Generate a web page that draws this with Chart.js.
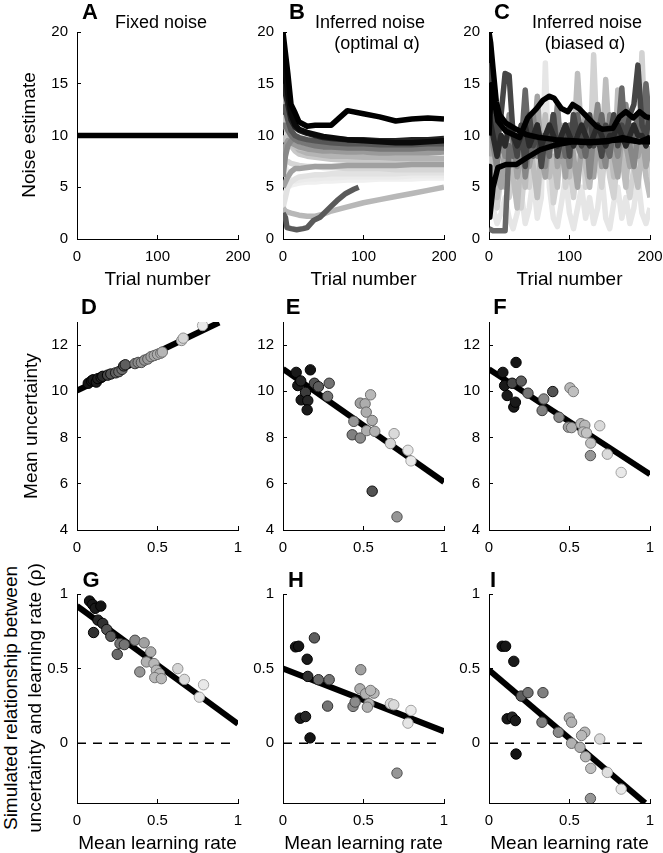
<!DOCTYPE html>
<html>
<head>
<meta charset="utf-8">
<script src="https://cdn.jsdelivr.net/npm/chart.js@4.4.1/dist/chart.umd.min.js"></script>
<style>
  body { margin: 0; background: #fff; }
  #fig { position: relative; width: 663px; height: 853px; overflow: hidden;
         font-family: "Liberation Sans", Arial, Helvetica, sans-serif; color: #000; }
  #fig canvas { position: absolute; }
  .t { position: absolute; white-space: nowrap; transform: translate(-50%, -50%); font-size: 19px; line-height: 1; z-index: 2; }
  .lab { font-weight: bold; font-size: 22px; }
  .ttl { font-size: 18px; }
  .rot { transform: translate(-50%, -50%) rotate(-90deg); }
</style>
</head>
<body>
<div id="fig"></div>
<script>
'use strict';

// ---- values ----
const trialTicks = [0, 100, 200];
const noiseTicks = [0, 5, 10, 15, 20];
const rateTicks  = [0, 0.5, 1];
const uncTicks   = [4, 6, 8, 10, 12];
const rhoTicks   = [0, 0.5, 1];

// A: fixed noise
const fixedTrials = [0, 200];
const fixedNoise  = [10, 10];

// B: inferred noise, optimal alpha (one curve per simulated subject, light -> dark)
const optTrials = [0, 3, 6, 10, 15, 20, 30, 40, 50, 60, 80, 100, 120, 140, 160, 180, 200];
const optCurves = [
  [4, 4.5, 5, 5.2, 5.3, 5.4, 5.5, 5.5, 5.6, 5.6, 5.7, 5.7, 5.8, 5.8, 5.8, 5.9, 5.9],
  [9, 7, 6, 5.6, 5.6, 5.7, 5.8, 5.8, 5.9, 5.9, 6, 6, 6, 6, 6.1, 6.1, 6.1],
  [3, 4, 5, 5.5, 5.8, 6, 6.1, 6.2, 6.2, 6.3, 6.3, 6.3, 6.3, 6.3, 6.4, 6.4, 6.4],
  [7, 7.5, 7.5, 7.3, 7.2, 7.1, 7, 7, 6.9, 6.9, 6.8, 6.8, 6.8, 6.7, 6.7, 6.7, 6.7],
  [12, 11, 10, 9, 8.5, 8.2, 8, 7.9, 7.8, 7.7, 7.6, 7.5, 7.5, 7.4, 7.4, 7.4, 7.4],
  [14.5, 13, 11, 9.5, 9, 8.6, 8.3, 8.2, 8.1, 8, 8, 7.9, 7.9, 7.8, 7.8, 7.8, 7.8],
  [3, 2.7, 2.6, 2.5, 2.4, 2.3, 2.2, 2.2, 2.4, 2.7, 3.1, 3.5, 3.8, 4.1, 4.4, 4.7, 5],
  [10, 9.5, 9.3, 9.1, 8.9, 8.8, 8.7, 8.6, 8.6, 8.5, 8.5, 8.5, 8.4, 8.4, 8.4, 8.4, 8.5],
  [5, 5.5, 6, 6.5, 6.8, 6.8, 6.9, 7, 7, 7, 7.1, 7.1, 7.1, 7.1, 7.2, 7.2, 7.2],
  [8, 9, 9.5, 9.3, 9.1, 8.9, 8.7, 8.6, 8.5, 8.5, 8.4, 8.4, 8.3, 8.3, 8.3, 8.3, 8.4],
  [6, 8, 9, 9.5, 9.7, 9.7, 9.5, 9.3, 9.2, 9.1, 9, 9, 9, 8.9, 8.9, 8.9, 8.9],
  [11, 11, 10.5, 10, 9.6, 9.4, 9.2, 9, 8.9, 8.9, 8.8, 8.8, 8.7, 8.7, 8.7, 8.8, 8.8],
  [13, 12.5, 11.5, 10.5, 10, 9.8, 9.6, 9.5, 9.4, 9.3, 9.2, 9.2, 9.1, 9.1, 9.1, 9.2, 9.2],
  [15, 14, 13, 11.5, 10.8, 10.5, 10.2, 10, 9.8, 9.7, 9.6, 9.6, 9.5, 9.5, 9.6, 9.6, 9.7],
  [17.5, 16, 14, 12, 11, 10.6, 10.3, 10.1, 9.9, 9.8, 9.6, 9.5, 9.4, 9.3, 9.3, 9.4, 9.5],
  [20, 18, 16, 13, 12.2, 11.3, 10.9, 11, 11, 11, 12.4, 12.1, 11.8, 11.4, 11.6, 11.7, 11.6],
];
const optShades = ['#f0f0f0', '#ebebeb', '#e2e2e2', '#d6d6d6', '#c8c8c8', '#b4b4b4', '#b8b8b8', '#c2c2c2',
                   '#a0a0a0', '#9a9a9a', '#888888', '#777777', '#555555', '#222222', '#0a0a0a', '#000000'];
// the dark curve that starts near 1 and stops around trial 95
const optLowTrials = [0, 3, 5, 10, 17, 25, 30, 38, 46, 59, 67, 78, 88, 94];
const optLowNoise  = [2.5, 2.1, 1.1, 1, 0.9, 1, 1.1, 1.8, 2.1, 3.1, 3.7, 4.4, 4.8, 5.0];

// C: inferred noise, biased alpha (spiky curves, light -> dark)
const biasTrials = [0, 5, 10, 15, 20, 25, 30, 35, 40, 45, 50, 55, 60, 65, 70, 75, 80, 85, 90, 95, 100,
                    105, 110, 115, 120, 125, 130, 135, 140, 145, 150, 155, 160, 165, 170, 175, 180, 185, 190, 195, 200];
const biasCurves = [
  [6, 3, 1.5, 2.5, 4, 2, 1, 2.5, 4.5, 1.5, 3, 6, 2, 4, 17, 5, 2, 1.2, 3.5, 6, 2.5, 1, 3, 5, 2, 4, 1.5, 3, 6.5, 2, 1, 3.5, 5, 2, 4, 1.5, 3, 6, 2.5, 1.5, 3],
  [9, 5, 3, 6, 8, 4, 6, 9, 3, 7, 5, 10, 4, 7, 6, 9, 3.5, 6, 10, 5, 7, 4, 8, 11, 5, 7, 17.8, 8, 5, 9, 6, 4, 8, 11, 6, 4, 7, 9, 18, 8, 5],
  [11, 7, 4, 7, 5, 9, 6, 3, 8, 5, 10, 7, 4, 9, 12, 6, 8, 5, 11, 8, 6, 9, 16, 10, 7, 5, 9, 12, 8, 15.4, 9, 6, 14.4, 8, 5, 10, 7, 5, 9, 6, 4],
  [8, 10, 6, 5, 9, 7, 10, 6, 8, 11, 7, 9, 13.8, 8, 6, 10, 12, 7, 9, 6, 11, 8, 5, 9, 12, 8, 6, 10, 7, 9, 11, 8, 6, 10, 9, 7, 11, 8, 10, 7, 9],
  [13, 9, 7, 10, 8, 12, 9, 7, 11, 6, 9, 12, 8, 10, 7, 11, 9, 13, 8, 10, 7, 12, 9, 8, 11, 6, 10, 13, 9, 7, 12, 10, 8, 11, 13, 9, 7, 10, 12, 9, 11],
  [1, 0.8, 0.8, 0.8, 0.8, 9, 8, 10, 9, 14.4, 9, 8, 11, 9, 10, 8, 12, 9, 10, 8, 11, 9, 12, 10, 8, 11, 9, 10, 12, 9, 8, 11, 10, 14.6, 9, 11, 10, 12, 10, 15, 11],
  [17, 12, 9, 12, 16, 15.8, 10, 8, 11, 7, 12, 9, 11, 7, 10, 9, 12, 8, 10, 11, 8, 12, 10, 9, 11, 12, 9, 10, 8, 11, 10, 12, 9, 11, 10, 12, 13, 16.8, 11, 10, 12],
  [12, 10, 8, 10, 9, 11, 10, 9, 10, 11, 9, 10, 11, 9, 10, 11, 10, 9, 10, 11, 10, 9, 10, 11, 10, 9, 10, 11, 10, 9, 10, 10, 11, 10, 9, 10, 11, 10, 10, 9, 10],
];
const biasShades = ['#e6e6e6', '#d2d2d2', '#bdbdbd', '#a3a3a3', '#878787', '#686868', '#464646', '#2a2a2a'];
// black curves on top of C
const biasDownTrials = [0, 2, 5, 9, 13, 21, 34, 46, 63, 83, 104, 125, 145, 166, 187, 200];
const biasDownNoise  = [20, 19, 16.5, 13.3, 12, 11.2, 10.6, 10.1, 9.8, 9.6, 9.5, 9.4, 9.5, 9.6, 9.4, 9.4];
const biasUpTrials   = [0, 1, 5, 11, 21, 34, 46, 63, 83, 104, 125, 145, 166, 187, 200];
const biasUpNoise    = [7, 2.1, 5, 6.9, 7.2, 7.2, 7.8, 8.6, 9.1, 9.4, 9.3, 9.4, 9.8, 9.4, 9.8];
const biasBumpTrials = [0, 3, 11, 21, 38, 48, 59, 67, 75, 81, 90, 98, 104, 112, 123, 133, 141, 154, 162, 170, 179, 187, 195, 200];
const biasBumpNoise  = [10, 14.9, 11.4, 10.4, 9.8, 11.7, 12.6, 13.4, 13.8, 13.6, 12.6, 12.3, 13, 12.6, 11.7, 10.9, 10.6, 10.7, 11.8, 12.3, 11.7, 12.3, 11.8, 11.7];

// D-F: mean learning rate vs mean uncertainty; shade = subject grey level (0 dark .. 1 light)
const dRate = [0.07, 0.09, 0.10, 0.12, 0.13, 0.15, 0.16, 0.19, 0.21, 0.24, 0.26, 0.28, 0.29, 0.30, 0.36, 0.38, 0.40, 0.42, 0.44, 0.46, 0.48, 0.50, 0.52, 0.53, 0.65, 0.66, 0.78];
const dUnc  = [10.35, 10.45, 10.5, 10.4, 10.55, 10.6, 10.65, 10.7, 10.75, 10.8, 10.85, 10.95, 11.1, 11.15, 11.2, 11.25, 11.25, 11.35, 11.4, 11.5, 11.55, 11.6, 11.65, 11.7, 12.2, 12.3, 12.85];
const dShade = [0.02, 0.04, 0.05, 0.06, 0.08, 0.1, 0.12, 0.25, 0.3, 0.35, 0.4, 0.42, 0.3, 0.35, 0.5, 0.55, 0.58, 0.6, 0.62, 0.65, 0.68, 0.7, 0.72, 0.74, 0.85, 0.88, 0.97];
const dFitX = [0, 0.883], dFitY = [10.03, 12.98];

const eRate = [0.082, 0.17, 0.092, 0.11, 0.113, 0.14, 0.154, 0.15, 0.195, 0.22, 0.287, 0.277, 0.44, 0.43, 0.48, 0.48, 0.51, 0.544, 0.517, 0.554, 0.52, 0.57, 0.69, 0.667, 0.776, 0.795, 0.554, 0.708];
const eUnc  = [10.82, 10.93, 10.25, 10.45, 9.63, 9.96, 9.6, 9.2, 10.35, 10.2, 10.35, 9.78, 8.7, 8.12, 7.98, 9.49, 9.46, 9.85, 9.1, 8.74, 8.3, 8.27, 8.17, 7.74, 7.45, 6.99, 5.68, 4.57];
const eShade = [0.05, 0.02, 0.05, 0.1, 0.05, 0.2, 0.1, 0.05, 0.3, 0.35, 0.45, 0.45, 0.6, 0.5, 0.55, 0.65, 0.7, 0.75, 0.7, 0.7, 0.7, 0.72, 0.9, 0.88, 0.95, 0.97, 0.3, 0.6];
const eFitX = [0, 1], eFitY = [10.97, 6.08];

const fRate = [0.086, 0.168, 0.097, 0.113, 0.144, 0.154, 0.164, 0.2, 0.242, 0.34, 0.33, 0.396, 0.435, 0.503, 0.524, 0.493, 0.513, 0.571, 0.595, 0.585, 0.606, 0.632, 0.63, 0.688, 0.735, 0.821];
const fUnc  = [10.82, 11.25, 10.25, 9.82, 10.35, 9.32, 9.53, 10.44, 9.92, 9.67, 9.17, 9.99, 8.88, 10.15, 9.99, 8.45, 8.43, 8.6, 8.53, 8.24, 8.2, 7.76, 7.22, 8.51, 7.28, 6.49];
const fShade = [0.05, 0.02, 0.05, 0.05, 0.25, 0.05, 0.05, 0.35, 0.45, 0.55, 0.5, 0.3, 0.55, 0.75, 0.78, 0.65, 0.7, 0.75, 0.75, 0.78, 0.8, 0.8, 0.6, 0.9, 0.9, 0.97];
const fFitX = [0, 1], fFitY = [10.96, 6.41];

// G-I: mean learning rate vs simulated rho
const gRate = [0.078, 0.097, 0.113, 0.148, 0.103, 0.13, 0.16, 0.185, 0.21, 0.267, 0.294, 0.25, 0.36, 0.417, 0.458, 0.431, 0.39, 0.478, 0.493, 0.513, 0.483, 0.524, 0.626, 0.667, 0.786, 0.76];
const gRho  = [0.953, 0.93, 0.904, 0.919, 0.742, 0.825, 0.803, 0.762, 0.717, 0.668, 0.661, 0.596, 0.69, 0.673, 0.612, 0.545, 0.478, 0.534, 0.489, 0.466, 0.44, 0.433, 0.5, 0.428, 0.392, 0.309];
const gShade = [0.02, 0.03, 0.05, 0.02, 0.15, 0.1, 0.15, 0.3, 0.35, 0.45, 0.45, 0.4, 0.55, 0.65, 0.7, 0.72, 0.6, 0.75, 0.75, 0.75, 0.75, 0.75, 0.88, 0.9, 0.97, 0.95];
const gFitX = [0, 1], gFitY = [0.92, 0.13];

const hRate = [0.078, 0.097, 0.195, 0.15, 0.154, 0.22, 0.287, 0.277, 0.107, 0.14, 0.168, 0.483, 0.435, 0.448, 0.478, 0.513, 0.534, 0.565, 0.544, 0.524, 0.667, 0.688, 0.795, 0.776, 0.708];
const hRho  = [0.646, 0.65, 0.706, 0.563, 0.448, 0.426, 0.426, 0.249, 0.168, 0.179, 0.036, 0.493, 0.247, 0.276, 0.365, 0.332, 0.265, 0.336, 0.354, 0.242, 0.265, 0.258, 0.22, 0.135, -0.2];
const hShade = [0.02, 0.03, 0.35, 0.05, 0.15, 0.4, 0.45, 0.45, 0.05, 0.1, 0.02, 0.65, 0.55, 0.55, 0.7, 0.72, 0.72, 0.75, 0.75, 0.72, 0.9, 0.9, 0.97, 0.95, 0.6];
const hFitX = [0, 1], hFitY = [0.5, 0.08];

const iRate = [0.082, 0.103, 0.154, 0.2, 0.242, 0.335, 0.329, 0.113, 0.144, 0.164, 0.168, 0.431, 0.499, 0.513, 0.513, 0.565, 0.595, 0.575, 0.6, 0.632, 0.688, 0.735, 0.821, 0.63];
const iRho  = [0.65, 0.65, 0.549, 0.316, 0.339, 0.339, 0.141, 0.164, 0.175, 0.152, -0.072, 0.074, 0.17, 0.141, 0, -0.027, 0.074, 0.052, -0.09, -0.168, 0.029, -0.195, -0.307, -0.37];
const iShade = [0.02, 0.03, 0.05, 0.35, 0.45, 0.5, 0.5, 0.05, 0.1, 0.05, 0.02, 0.55, 0.72, 0.72, 0.72, 0.72, 0.75, 0.75, 0.75, 0.78, 0.9, 0.92, 0.97, 0.6];
const iFitX = [0, 0.97], iFitY = [0.49, -0.4];

const zeroX = [0, 0.97], zeroY = [0, 0];

// ---- layout ----
const FONT = '"Liberation Sans", Arial, Helvetica, sans-serif';
const COLS = [77, 283, 489];
const PW = 161;
const ROWS = [{ top: 32, bottom: 239 }, { top: 322, bottom: 530 }, { top: 594, bottom: 803 }];
const YA = 45, PT = 12, PR = 16, XH = 30;
const LW = 5.5;

const fig = document.getElementById('fig');
const zip = (xs, ys) => xs.map((x, i) => ({ x, y: ys[i] }));
const grey = t => { const v = Math.round(15 + t * 225); return `rgb(${v},${v},${v})`; };
const greyEdge = t => { const v = Math.round(Math.max(0, 15 + t * 225 - 70)); return `rgb(${v},${v},${v})`; };

function curve(xs, ys, color, width) {
  return { data: zip(xs, ys), showLine: true, borderColor: color, borderWidth: width, pointRadius: 0,
           borderJoinStyle: 'round', tension: 0, fill: false };
}
function dots(xs, ys, shades) {
  return { data: zip(xs, ys), showLine: false, pointRadius: 5.2, borderWidth: 1,
           backgroundColor: shades.map(grey), borderColor: shades.map(greyEdge) };
}

function axis(min, max, ticks, pos) {
  const isX = pos === 'bottom';
  return {
    type: 'linear', position: pos, min, max,
    border: { display: true, color: '#000', width: 1 },
    grid: { display: true, drawOnChartArea: false, drawTicks: true, tickLength: -4, color: '#000' },
    ticks: { color: '#000', font: { family: FONT, size: 15 }, padding: 13, maxRotation: 0, autoSkip: false,
             callback: v => String(v) },
    afterBuildTicks: s => { s.ticks = ticks.map(v => ({ value: v })); },
    afterFit: s => {
      if (isX) s.height = XH; else s.width = YA;
      s.paddingLeft = 0; s.paddingRight = 0; s.paddingTop = 0; s.paddingBottom = 0;
    },
  };
}

function panel(col, row, xr, yr, datasets) {
  const r = ROWS[row];
  const cv = document.createElement('canvas');
  const w = YA + PW + PR, h = PT + (r.bottom - r.top) + XH;
  cv.width = w; cv.height = h;
  cv.style.left = (COLS[col] - YA) + 'px';
  cv.style.top = (r.top - PT) + 'px';
  cv.style.width = w + 'px'; cv.style.height = h + 'px';
  fig.appendChild(cv);
  // later datasets are drawn on top
  datasets.forEach((d, i) => { d.order = datasets.length - i; });
  new Chart(cv, {
    type: 'scatter',
    data: { datasets },
    options: {
      responsive: false, animation: false, events: [], devicePixelRatio: 1,
      layout: { padding: { top: PT, right: PR, left: 0, bottom: 0 } },
      plugins: { legend: { display: false }, tooltip: { enabled: false } },
      scales: { x: axis(xr[0], xr[1], xr[2], 'bottom'), y: axis(yr[0], yr[1], yr[2], 'left') },
    },
  });
}

// row 1
panel(0, 0, [0, 200, trialTicks], [0, 20, noiseTicks], [curve(fixedTrials, fixedNoise, '#000', LW)]);

const bSets = optCurves.map((ys, i) => curve(optTrials, ys, optShades[i], LW));
bSets.splice(12, 0, curve(optLowTrials, optLowNoise, '#5a5a5a', LW));
panel(1, 0, [0, 200, trialTicks], [0, 20, noiseTicks], bSets);

const cSets = biasCurves.map((ys, i) => curve(biasTrials, ys, biasShades[i], LW));
cSets.push(curve(biasUpTrials, biasUpNoise, '#000', LW));
cSets.push(curve(biasDownTrials, biasDownNoise, '#000', LW));
cSets.push(curve(biasBumpTrials, biasBumpNoise, '#000', LW));
panel(2, 0, [0, 200, trialTicks], [0, 20, noiseTicks], cSets);

// row 2
panel(0, 1, [0, 1, rateTicks], [4, 13, uncTicks], [curve(dFitX, dFitY, '#000', 6), dots(dRate, dUnc, dShade)]);
panel(1, 1, [0, 1, rateTicks], [4, 13, uncTicks], [curve(eFitX, eFitY, '#000', 6), dots(eRate, eUnc, eShade)]);
panel(2, 1, [0, 1, rateTicks], [4, 13, uncTicks], [curve(fFitX, fFitY, '#000', 6), dots(fRate, fUnc, fShade)]);

// row 3
const dashed = () => Object.assign(curve(zeroX, zeroY, '#000', 1.6), { borderDash: [9, 7] });
panel(0, 2, [0, 1, rateTicks], [-0.4, 1, rhoTicks], [dashed(), curve(gFitX, gFitY, '#000', 6), dots(gRate, gRho, gShade)]);
panel(1, 2, [0, 1, rateTicks], [-0.4, 1, rhoTicks], [dashed(), curve(hFitX, hFitY, '#000', 6), dots(hRate, hRho, hShade)]);
panel(2, 2, [0, 1, rateTicks], [-0.4, 1, rhoTicks], [dashed(), curve(iFitX, iFitY, '#000', 6), dots(iRate, iRho, iShade)]);

// ---- text ----
function text(str, x, y, cls) {
  const el = document.createElement('div');
  el.className = 't' + (cls ? ' ' + cls : '');
  el.textContent = str;
  el.style.left = x + 'px'; el.style.top = y + 'px';
  fig.appendChild(el);
}
[['A', 90, 12], ['B', 297, 12], ['C', 502, 12],
 ['D', 89, 307], ['E', 293, 307], ['F', 500, 307],
 ['G', 91, 580], ['H', 296, 580], ['I', 493, 580]].forEach(([s, x, y]) => text(s, x, y, 'lab'));

text('Fixed noise', 161, 22, 'ttl');
text('Inferred noise', 370, 22, 'ttl');
text('(optimal \u03b1)', 377, 43, 'ttl');
text('Inferred noise', 587, 22, 'ttl');
text('(biased \u03b1)', 585, 43, 'ttl');

['Trial number', 'Trial number', 'Trial number'].forEach((s, i) => text(s, COLS[i] + PW / 2, 278));
['Mean learning rate', 'Mean learning rate', 'Mean learning rate'].forEach((s, i) => text(s, COLS[i] + PW / 2, 842));

text('Noise estimate', 28, 135, 'rot');
text('Mean uncertainty', 30, 426, 'rot');
text('Simulated relationship between', 10, 698, 'rot');
text('uncertainty and learning rate (\u03c1)', 34, 698, 'rot');
</script>
</body>
</html>
